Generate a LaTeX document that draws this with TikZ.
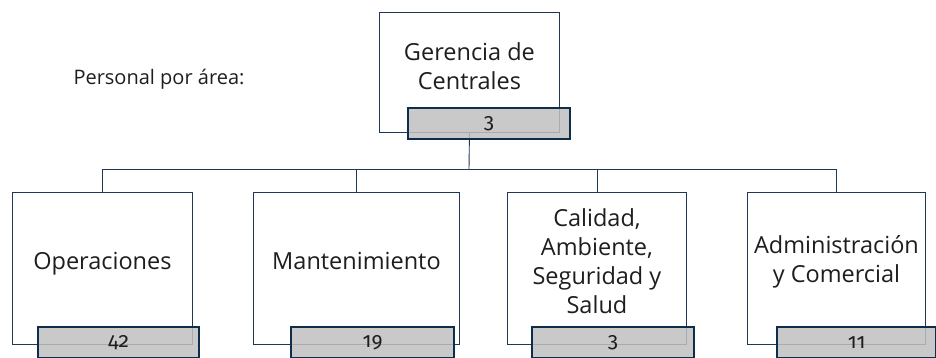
\documentclass[tikz,border=0pt]{standalone}
\usepackage{fontspec}
\setmainfont{Open Sans}
\newfontfamily\numfont[Numbers=OldStyle]{Fira Sans}
\usetikzlibrary{backgrounds,calc}
\definecolor{navy}{RGB}{31,56,86}
\definecolor{darknavy}{RGB}{14,45,75}
\definecolor{greyfill}{RGB}{192,192,192}
\definecolor{txt}{RGB}{30,30,30}
\begin{document}
\begin{tikzpicture}[x=1pt,y=-1pt,
  unitbox/.style={draw=navy,line width=0.9pt,fill=white,inner sep=0pt,anchor=north west},
  countbox/.style={draw=darknavy,line width=2.2pt,fill=greyfill,fill opacity=0.85,text opacity=1,inner sep=0pt,anchor=north west,minimum height=31pt,font=\numfont\fontsize{21}{21}\selectfont,text=txt},
  unitlabel/.style={align=center,font=\fontsize{23.5}{29}\selectfont,text=txt},
  link/.style={draw=navy,line width=0.9pt}]
\useasboundingbox (0,0) rectangle (936,358);
% title
\node[font=\fontsize{20}{24}\selectfont,text=txt] (title) at (159,79) {Personal por área:};
% unit boxes
\node[unitbox,minimum width=180pt,minimum height=120pt] (g) at (379,12) {};
\node[unitbox,minimum width=180pt,minimum height=152pt] (b1) at (12,192) {};
\node[unitbox,minimum width=206pt,minimum height=152pt] (b2) at (253,192) {};
\node[unitbox,minimum width=179pt,minimum height=152pt] (b3) at (507,192) {};
\node[unitbox,minimum width=178pt,minimum height=152pt] (b4) at (747,192) {};
% connectors
\coordinate (bus) at (469,169);
\begin{scope}[on background layer]
\draw[link] (g.south) -- (bus);
\draw[link] (b1.north) |- (bus);
\draw[link] (b4.north) |- (bus);
\draw[link] (b2.north) -- (b2.north |- bus);
\draw[link] (b3.north) -- (b3.north |- bus);
\end{scope}
% labels
\node[unitlabel] (gt) at ($(g.center)+(0,-6)$) {Gerencia de\\Centrales};
\node[unitlabel] (t1) at ($(b1.center)+(0,-5)$) {Operaciones};
\node[unitlabel] (t2) at ($(b2.center)+(0,-7)$) {Mantenimiento};
\node[unitlabel] (t3) at ($(b3.center)+(0,-7)$) {Calidad,\\Ambiente,\\Seguridad y\\Salud};
\node[unitlabel] (t4) at ($(b4.center)+(0,-7)$) {Administración\\y Comercial};
% count boxes
\node[countbox,minimum width=162pt] (gc) at (407,107) {3};
\node[countbox,minimum width=161pt] (c1) at (37,326) {42};
\node[countbox,minimum width=163pt] (c2) at (290,326) {19};
\node[countbox,minimum width=162pt] (c3) at (531,326) {3};
\node[countbox,minimum width=159pt] (c4) at (776,326) {11};
\end{tikzpicture}
\end{document}
